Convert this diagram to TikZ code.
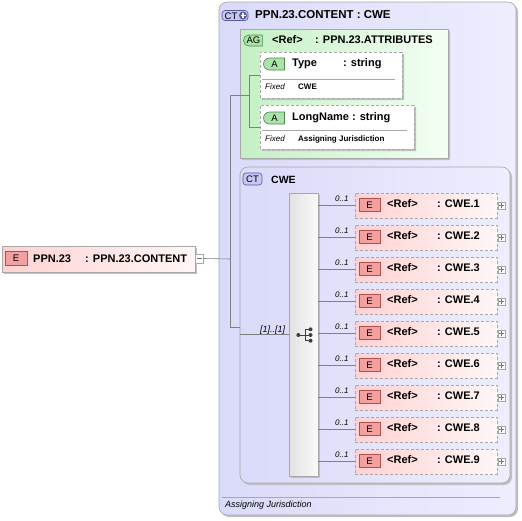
\documentclass[tikz,border=0pt]{standalone}
\usepackage{fontspec}
\setmainfont{Liberation Sans}
\usetikzlibrary{shapes.misc,shadows}
\definecolor{bordergray}{HTML}{A8A8A8}
\definecolor{ctleft}{HTML}{DADAFA}
\definecolor{ctright}{HTML}{EEEEFF}
\definecolor{agleft}{HTML}{C4F0C4}
\definecolor{agright}{HTML}{F4FFF4}
\definecolor{elleft}{HTML}{FFD2D2}
\definecolor{elright}{HTML}{FFF6F6}
\definecolor{seqleft}{HTML}{E2E2E2}
\definecolor{seqright}{HTML}{FAFAFA}
\definecolor{ebadge}{HTML}{F2A0A0}
\definecolor{ebadgeb}{HTML}{B05050}
\definecolor{abadge}{HTML}{ACE2AC}
\definecolor{abadgeb}{HTML}{4A8A4A}
\definecolor{ctbadge}{HTML}{C6C6F4}
\definecolor{ctbadgeb}{HTML}{5858A0}
\definecolor{connc}{HTML}{808080}
\newcommand{\lblfont}{\fontsize{11}{13}\selectfont\bfseries}
\newcommand{\hdrfont}{\fontsize{11.5}{13}\selectfont\bfseries}
\newcommand{\badgefont}{\fontsize{9.5}{10}\selectfont}
\newcommand{\smallbold}{\fontsize{8}{9}\selectfont\bfseries}
\newcommand{\smallit}{\fontsize{8}{9}\selectfont\itshape}
\newcommand{\midit}{\fontsize{9}{10}\selectfont\itshape}
\begin{document}
\begin{tikzpicture}[x=1pt,y=-1pt,
  txt/.style={inner sep=0, anchor=base west, text=black},
  shad/.style={drop shadow={shadow xshift=2pt, shadow yshift=-2pt, fill=black!25, opacity=1}},
  ctbox/.style={draw=bordergray, line width=0.6pt, rounded corners=8pt, left color=ctleft, right color=ctright, inner sep=0, shad},
  agbox/.style={draw=bordergray, line width=0.6pt, chamfered rectangle, chamfered rectangle corners=north west, chamfered rectangle xsep=6pt, chamfered rectangle ysep=6pt, left color=agleft, right color=agright, inner sep=0, shad},
  attrbox/.style={draw=bordergray, line width=0.6pt, dash pattern=on 3pt off 2pt, chamfered rectangle, chamfered rectangle corners=north west, chamfered rectangle xsep=4pt, chamfered rectangle ysep=4pt, fill=white, inner sep=0, shad},
  childbox/.style={draw=bordergray, line width=0.6pt, dash pattern=on 3pt off 2pt, left color=elleft, right color=elright, inner sep=0},
  elembox/.style={draw=bordergray, line width=0.6pt, left color=elleft, right color=elright, inner sep=0, shad},
  seqbox/.style={draw=bordergray, line width=0.6pt, left color=seqleft, right color=seqright, inner sep=0, shad},
  ebox/.style={draw=ebadgeb, line width=0.6pt, fill=ebadge, inner sep=0, minimum width=21pt, minimum height=13pt, font=\badgefont, text=black},
  abox/.style={draw=abadgeb, line width=0.6pt, fill=abadge, inner sep=0, rounded rectangle, rounded rectangle right arc=none, minimum width=21pt, minimum height=12pt, font=\badgefont, text=black},
  agbadge/.style={draw=abadgeb, line width=0.6pt, fill=abadge, inner sep=0, rounded rectangle, rounded rectangle right arc=none, minimum width=19pt, minimum height=11pt, font=\badgefont, text=black},
  ctbadgest/.style={draw=ctbadgeb, line width=0.6pt, fill=ctbadge, inner sep=0, rounded corners=3pt, minimum width=19pt, minimum height=12pt, font=\badgefont, text=black},
  pmbox/.style={draw=bordergray, line width=0.5pt, fill=white, inner sep=0, minimum width=7pt, minimum height=7pt},
  conn/.style={draw=connc, line width=0.6pt},
  sep/.style={draw=bordergray, line width=0.6pt}
]
\useasboundingbox (0,0) rectangle (522,520);

% outer complex type
\node[ctbox, minimum width=297pt, minimum height=513pt] (outer) at (367.5,258.5) {};
\node[ctbadgest, minimum width=26pt, minimum height=10pt] (ctplus) at (235,15.5) {};
\node[txt, font=\badgefont] (ctplustxt) at (224.5,19) {CT};
\node[circle, fill=ctbadgeb, inner sep=0, minimum size=8pt] (plusc) at (243,15.5) {};
\draw[white, line width=1.2pt] ([xshift=-2.5pt]plusc.center) -- ([xshift=2.5pt]plusc.center);
\draw[white, line width=1.2pt] ([yshift=-2.5pt]plusc.center) -- ([yshift=2.5pt]plusc.center);
\node[txt, font=\hdrfont] (hdr) at (255,18.5) {PPN.23.CONTENT : CWE};

% attribute group
\node[agbox, minimum width=208pt, minimum height=129pt] (ag) at (344,93.5) {};
\node[agbadge] (agb) at (253.5,40.5) {AG};
\node[txt, font=\lblfont] (agref) at (272,43.5) {<Ref>};
\node[txt, font=\lblfont] (agtype) at (315,43.5) {: PPN.23.ATTRIBUTES};

% attribute Type
\node[attrbox, minimum width=142pt, minimum height=46pt] (type) at (331,75) {};
\node[abox] (tyb) at (274.5,64) {A};
\node[txt, font=\lblfont] (tyn) at (292,66.7) {Type};
\node[txt, font=\lblfont] (tyt) at (343,66.7) {: string};
\draw[sep] (262,79) -- (395,79);
\node[txt, font=\smallit] (tyf) at (265,89.5) {Fixed};
\node[txt, font=\smallbold] (tyv) at (298,89) {CWE};

% attribute LongName
\node[attrbox, minimum width=154pt, minimum height=44pt] (longname) at (337,127) {};
\node[abox] (lnb) at (274.5,118) {A};
\node[txt, font=\lblfont] (lnn) at (292,120.7) {LongName : string};
\draw[sep] (262,130) -- (407,130);
\node[txt, font=\smallit] (lnf) at (265,141.5) {Fixed};
\node[txt, font=\smallbold] (lnv) at (298,141) {Assigning Jurisdiction};

% connectors in attribute group
\coordinate (agj) at (249,95);
\draw[conn] (type.west -| agj) -- (longname.west -| agj);
\draw[conn] (type.west -| agj) -- (type.west);
\draw[conn] (longname.west -| agj) -- (longname.west);

% CWE complex type
\node[ctbox, minimum width=270pt, minimum height=316pt] (cwe) at (375,325) {};
\node[ctbadgest] (ctb) at (252.5,179) {CT};
\node[txt, font=\fontsize{10.5}{12}\selectfont\bfseries] (cwet) at (271,183.5) {CWE};

% sequence
\node[seqbox, minimum width=29pt, minimum height=283pt] (seq) at (303.5,334.5) {};
\fill[black!75] (298.3,335) circle (2pt);
\draw[black!75, line width=0.9pt] (298.3,335) -- (305,335);
\draw[black!75, line width=0.9pt] (305,329.3) -- (305,340.7);
\foreach \yy in {329.3,335,340.7} {
  \draw[black!75, line width=0.9pt] (305,\yy) -- (310.5,\yy);
  \fill[black!75] (310.5,\yy) circle (2pt);
}
\coordinate (cwein) at (240,334.5);
\draw[conn] (cwein) -- (seq.west);
\node[txt, font=\midit] (mult) at (260,332) {[1]..[1]};

% children
\foreach \i in {1,...,9} {
  \pgfmathsetmacro\yc{205.5+32*(\i-1)}
  \pgfmathsetmacro\yb{\yc+2}
  \pgfmathsetmacro\yl{\yc-3.7}
  \pgfmathsetmacro\ye{\yc-0.5}
  \node[childbox, minimum width=142pt, minimum height=25pt] (c\i) at (426,\yc) {};
  \node[ebox] (e\i) at (369.5,\ye) {E};
  \node[txt, font=\lblfont] (r\i) at (387,\yb) {<Ref>};
  \node[txt, font=\lblfont] (n\i) at (437,\yb) {: CWE.\i};
  \node[pmbox] (p\i) at (501.5,\yc) {};
  \draw[black!55, line width=0.5pt] ([xshift=-2.2pt]p\i.center) -- ([xshift=2.2pt]p\i.center);
  \draw[black!55, line width=0.5pt] ([yshift=-2.2pt]p\i.center) -- ([yshift=2.2pt]p\i.center);
  \draw[conn] (seq.east |- c\i.west) -- (c\i.west);
  \node[txt, font=\smallit] (m\i) at (335,\yl) {0..1};
}

% bottom annotation
\draw[sep] (222,497) -- (500,497);
\node[txt, font=\midit] (ann) at (225,507) {Assigning Jurisdiction};

% top-level element
\node[elembox, minimum width=193pt, minimum height=26pt] (ppn) at (98.5,259) {};
\node[ebox, minimum width=22pt, minimum height=14pt] (ppne) at (16,258) {E};
\node[txt, font=\lblfont] (ppnn) at (33,262) {PPN.23};
\node[txt, font=\lblfont] (ppnt) at (85,262) {: PPN.23.CONTENT};
\node[pmbox, minimum width=8pt, minimum height=9pt] (ppnm) at (199.5,258.5) {};
\draw[black!55, line width=0.5pt] ([xshift=-2.2pt]ppnm.center) -- ([xshift=2.2pt]ppnm.center);

% main connectors
\coordinate (jtop) at (230,95);
\coordinate (jmid) at (230,259);
\coordinate (jbot) at (230,327);
\draw[conn] (ppnm.east) -- (jmid);
\draw[conn] (jtop) -- (jbot);
\draw[conn] (jtop) -- (agj);
\draw[conn] (jbot) -- (cwe.west |- jbot);
\end{tikzpicture}
\end{document}
